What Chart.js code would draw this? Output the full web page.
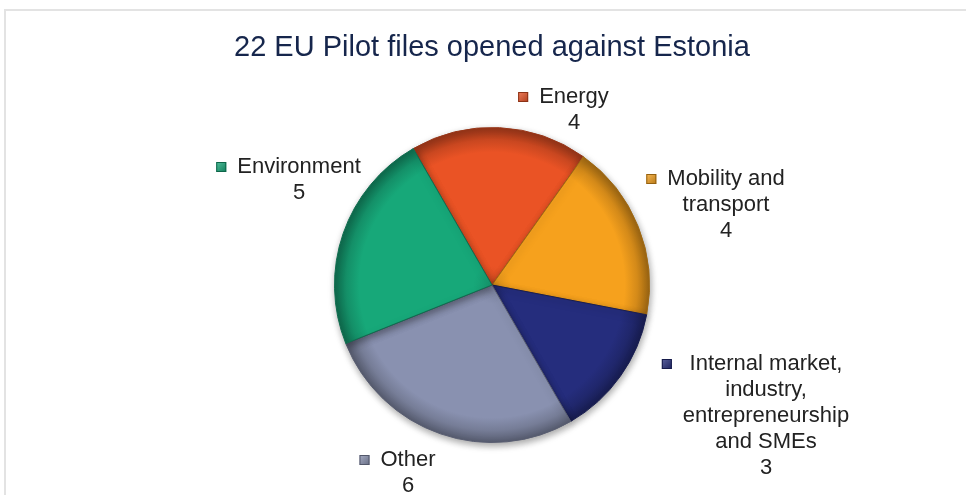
<!DOCTYPE html>
<html><head><meta charset="utf-8">
<style>html,body{margin:0;padding:0;background:#fff;}#wrap{width:966px;height:495px;position:relative;overflow:hidden}</style>
<script src="https://cdn.jsdelivr.net/npm/chart.js@4/dist/chart.umd.min.js"></script>
</head><body><div id="wrap"><canvas id="c" width="966" height="495"></canvas></div>
<script>
const categories = ["Energy", "Mobility and transport", "Internal market, industry, entrepreneurship and SMEs", "Other", "Environment"];
const labelLines = [["Energy"], ["Mobility and", "transport"], ["Internal market,", "industry,", "entrepreneurship", "and SMEs"], ["Other"], ["Environment"]];
const fileCounts = [4, 4, 3, 6, 5];
const titleText = "22 EU Pilot files opened against Estonia";

// styling (kept separate from data)
const sliceColors = ["#EA5325", "#F6A11D", "#252D7D", "#8991B0", "#17A879"];
const labelOffsets = [[82, -188], [234, -106], [274, 79], [-84, 175], [-193, -118]];
const FONT = '"Liberation Sans", Arial, sans-serif';

function hexToRgb(h){h=h.replace('#','');return [parseInt(h.slice(0,2),16),parseInt(h.slice(2,4),16),parseInt(h.slice(4,6),16)];}
function shade(h,f){const c=hexToRgb(h);return 'rgb('+c.map(v=>Math.max(0,Math.min(255,Math.round(f<1?v*f:v+(255-v)*(f-1))))).join(',')+')';}

const framePlugin = {
  id:'frame',
  beforeDraw(chart){
    const ctx=chart.ctx; ctx.save();
    ctx.fillStyle='#e3e3e3';
    ctx.fillRect(4,9,962,2);
    ctx.fillRect(4,9,2,486);
    ctx.font='29px '+FONT;
    ctx.fillStyle='#16264C';
    ctx.textAlign='center'; ctx.textBaseline='alphabetic';
    ctx.fillText(titleText,(chart.chartArea.left+chart.chartArea.right)/2,56);
    ctx.restore();
  }
};

const shadowPlugin = {
  id:'pieShadow',
  beforeDatasetsDraw(chart){
    const ctx=chart.ctx; ctx.save();
    ctx.shadowColor='rgba(0,0,0,0.35)'; ctx.shadowBlur=7; ctx.shadowOffsetX=1; ctx.shadowOffsetY=3;
  },
  afterDatasetsDraw(chart){ chart.ctx.restore(); }
};

const labelPlugin = {
  id:'sliceLabels',
  afterDraw(chart){
    const ctx=chart.ctx;
    const meta=chart.getDatasetMeta(0);
    ctx.save();
    ctx.font='22px '+FONT;
    ctx.textAlign='center'; ctx.textBaseline='middle';
    meta.data.forEach((arc,i)=>{
      const lines=labelLines[i].concat([String(fileCounts[i])]);
      const x=arc.x+labelOffsets[i][0], y0=arc.y+labelOffsets[i][1];
      let w=0; lines.forEach(l=>{w=Math.max(w,ctx.measureText(l).width);});
      ctx.fillStyle='#222222';
      lines.forEach((l,k)=>ctx.fillText(l,x,y0+k*26));
      const sx=x-w/2-16, s=10;
      const g=ctx.createLinearGradient(sx-s/2,y0-s/2,sx+s/2,y0+s/2);
      g.addColorStop(0,shade(sliceColors[i],1.25));
      g.addColorStop(1,shade(sliceColors[i],0.75));
      ctx.fillStyle=g;
      ctx.fillRect(sx-s/2,y0-s/2,s,s);
      ctx.strokeStyle=shade(sliceColors[i],0.6); ctx.lineWidth=1;
      ctx.strokeRect(sx-s/2+0.5,y0-s/2+0.5,s-1,s-1);
    });
    ctx.restore();
  }
};

new Chart(document.getElementById('c'), {
  type:'pie',
  data:{
    labels:categories,
    datasets:[{
      data:fileCounts,
      backgroundColor:(c)=>{
        const base=sliceColors[c.dataIndex];
        const a=c.chart.chartArea;
        if(!a) return base;
        const cx=(a.left+a.right)/2, cy=(a.top+a.bottom)/2, r=Math.min(a.width,a.height)/2;
        const g=c.chart.ctx.createRadialGradient(cx,cy,0,cx,cy,r);
        g.addColorStop(0,shade(base,0.9));
        g.addColorStop(0.12,base);
        g.addColorStop(0.84,base);
        g.addColorStop(0.92,shade(base,0.86));
        g.addColorStop(1,shade(base,0.62));
        return g;
      },
      borderColor:sliceColors.map(c=>shade(c,0.65)),
      borderWidth:1
    }]
  },
  options:{
    responsive:false,
    devicePixelRatio:1,
    animation:false,
    events:[],
    rotation:-30,
    layout:{padding:{top:127,bottom:52,left:334,right:316}},
    plugins:{
      legend:{display:false},
      tooltip:{enabled:false},
      title:{display:false}
    }
  },
  plugins:[framePlugin,shadowPlugin,labelPlugin]
});
</script></body></html>
